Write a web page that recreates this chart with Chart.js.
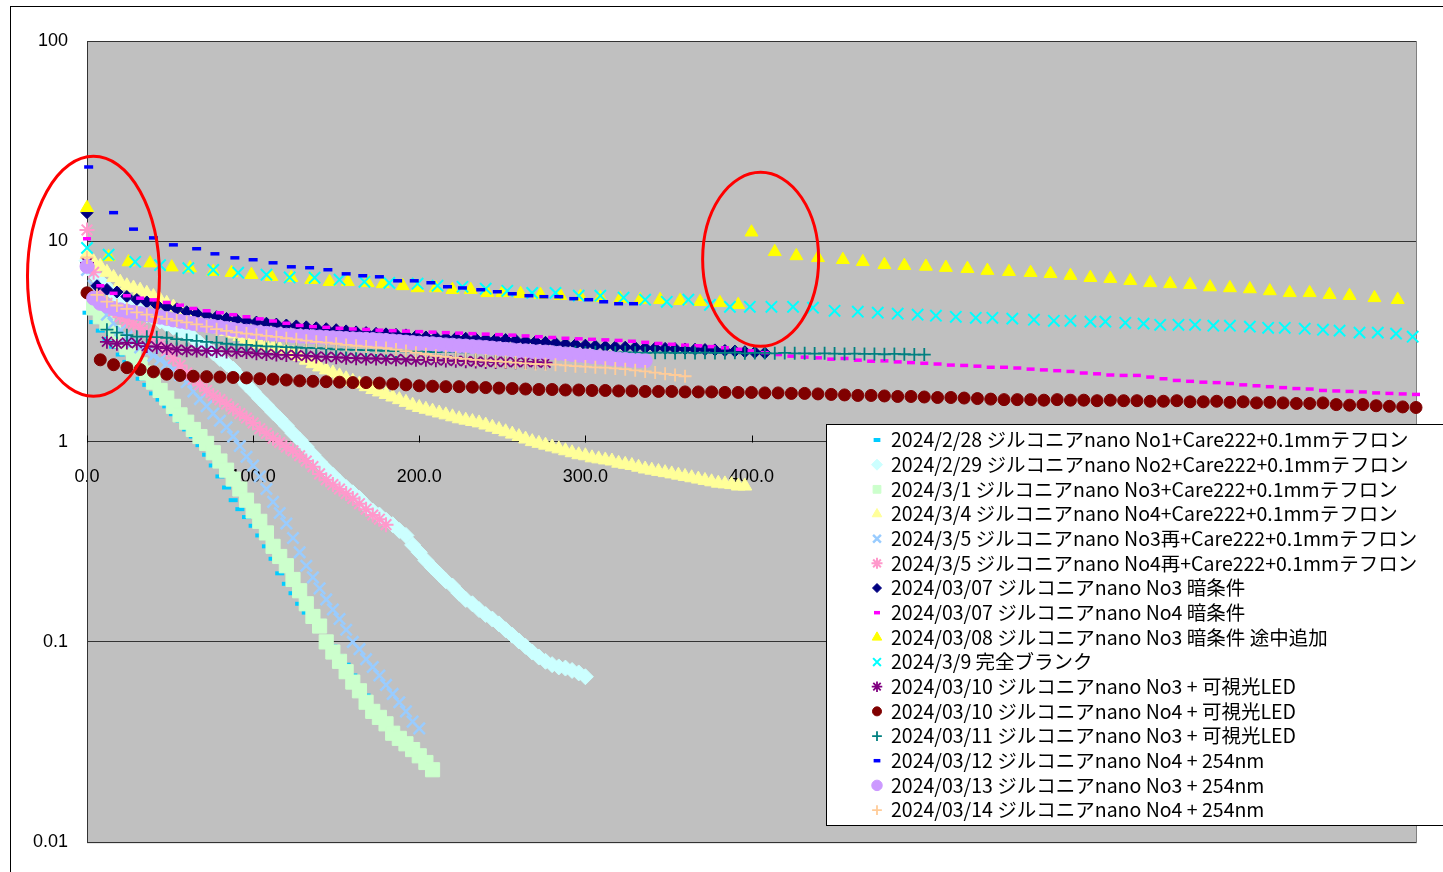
<!DOCTYPE html>
<html>
<head>
<meta charset="utf-8">
<script src="https://cdn.jsdelivr.net/npm/chart.js@4.4.1/dist/chart.umd.min.js"></script>
<style>
  html, body { margin: 0; padding: 0; background: #fff; }
  canvas { display: block; }
</style>
</head>
<body>
<canvas id="chart" width="1443" height="872"></canvas>
<script>
// ---- sampling times (min) ----
const tA = [0,4,8,12,16,20,24,28,32,36,40,44,48,52,56,60,64,68,72,76,80,84,88,92,96,100,104,108,112,116,120,124,128,132,136,140,144,148,152,156,160,164,168,172,176,180,184,188,192,196,200,204,208,212,216,220,224,228,232,236,240,244,248,252,256,260,264,268,272,276,280,284,288,292,296,300,304,308,312,316,320,324,328,332,336,340,344,348,352,356,360,364,368,372,376,380,384,388,392,396,400];
const tB = [0,6,12,18,24,30,36,42,48,54,60,66,72,78,84,90,96,102,108,114,120,126,132,138,144,150,156,162,168,174,180,186,192,198,204,210,216,222,228,234,240,246,252,258,264,270,276,282,288,294,300,306,312,318,324,330,336,342,348,354,360,366,372,378,384,390,396,402,408,414,420,426,432,438,444,450,456,462,468,474,480,486,492,498,504];
const tC = [0,8,16,24,32,40,48,56,64,72,80,88,96,104,112,120,128,136,144,152,160,168,176,184,192,200,208,216,224,232,240,248,256,264,272,280,288,296,304,312,320,328,336,344,352,360,368,376,384,392,400,408,416,424,432,440,448,456,464,472,480,488,496,504,512,520,528,536,544,552,560,568,576,584,592,600,608,616,624,632,640,648,656,664,672,680,688,696,704,712,720,728,736,744,752,760,768,776,784,792,800];
const tYellow = [0,13,25,38,51,62,76,87,99,111,123,135,146,157,169,178,190,199,210,220,231,241,250,261,273,285,297,309,321,333,345,357,369,381,392,400,414,427,440,455,467,480,492,505,517,530,542,555,568,580,592,604,616,628,640,652,664,676,688,700,712,724,736,748,760,775,789];
const tBlank = [0,13,29,44,61,76,91,108,122,137,152,167,182,199,211,226,240,253,268,282,296,309,323,336,349,362,375,387,399,412,425,437,450,464,476,488,500,511,523,535,545,557,570,582,592,604,613,625,636,646,657,667,678,688,700,711,721,733,744,754,766,777,788,798];
const tUv = [1,16,28,40,52,66,77,89,100,112,123,134,145,156,166,176,187,197,207,217,226,237,247,256,266,275,284,293,302,311,320,329];

// ---- series values ----
const s0228 = [4.4,3.95,3.58,3.25,2.98,2.72,2.5,2.28,2.06,1.92,1.74,1.62,1.5,1.37,1.27,1.15,1.06,0.96,0.86,0.76,0.67,0.59,0.51,0.46,0.42,0.38,0.34,0.3,0.26,0.22,0.195,0.175,0.155,0.14,0.127,0.117,0.105,0.095,0.085,0.077,0.068,0.06,0.054,0.045];
const s0229 = [8.0,6.9,6.3,5.9,5.5,5.2,4.95,4.7,4.5,4.3,4.15,4.0,3.85,3.72,3.6,3.45,3.3,3.1,2.95,2.78,2.6,2.45,2.3,2.1,1.92,1.78,1.64,1.52,1.4,1.3,1.2,1.1,1.02,0.94,0.86,0.79,0.73,0.68,0.63,0.59,0.555,0.52,0.48,0.45,0.43,0.405,0.385,0.36,0.34,0.305,0.28,0.255,0.235,0.218,0.202,0.19,0.175,0.163,0.155,0.145,0.137,0.13,0.123,0.115,0.108,0.101,0.095,0.089,0.084,0.08,0.077,0.075,0.074,0.072,0.07,0.067];
const s0301 = [null,4.65,4.2,3.9,3.5,3.2,2.94,2.7,2.42,2.2,1.98,1.8,1.65,1.5,1.36,1.25,1.15,1.06,0.98,0.88,0.8,0.72,0.65,0.58,0.51,0.45,0.4,0.35,0.3,0.267,0.24,0.205,0.18,0.155,0.134,0.12,0.1,0.089,0.08,0.071,0.063,0.057,0.05,0.045,0.042,0.039,0.035,0.033,0.031,0.029,0.027,0.025,0.023];
const s0304 = [8.6,7.9,7.5,7.0,6.6,6.25,6.0,5.85,5.7,5.5,5.3,5.1,4.9,4.7,4.5,4.35,4.2,4.05,3.9,3.78,3.65,3.55,3.45,3.35,3.25,3.15,3.07,3.0,2.95,2.9,2.84,2.75,2.66,2.55,2.45,2.36,2.28,2.2,2.13,2.06,2.0,1.94,1.88,1.82,1.77,1.72,1.67,1.62,1.57,1.52,1.48,1.45,1.42,1.39,1.36,1.33,1.3,1.28,1.26,1.24,1.21,1.18,1.15,1.12,1.09,1.06,1.03,1.0,0.98,0.96,0.94,0.92,0.9,0.88,0.86,0.85,0.83,0.82,0.81,0.8,0.78,0.77,0.76,0.745,0.73,0.72,0.71,0.7,0.69,0.68,0.67,0.66,0.65,0.64,0.63,0.62,0.615,0.61,0.6,0.6];
const s0305a = [7.2,6.0,5.0,4.3,3.9,3.6,3.35,3.15,2.95,2.8,2.68,2.56,2.45,2.3,2.15,1.98,1.78,1.63,1.5,1.38,1.27,1.18,1.06,0.95,0.84,0.76,0.67,0.58,0.5,0.44,0.39,0.33,0.28,0.24,0.21,0.185,0.163,0.145,0.13,0.115,0.1,0.092,0.082,0.075,0.068,0.061,0.055,0.05,0.045,0.04,0.037];
const s0305b = [11.4,7.0,5.5,4.9,4.5,4.2,4.0,3.85,3.7,3.5,3.3,3.1,2.85,2.6,2.4,2.2,2.05,1.92,1.8,1.7,1.62,1.54,1.46,1.38,1.31,1.24,1.16,1.1,1.04,0.99,0.94,0.9,0.85,0.8,0.75,0.69,0.645,0.61,0.58,0.55,0.52,0.49,0.46,0.43,0.41,0.385];
const s0307a = [13.9,6.0,5.75,5.58,5.3,5.12,4.98,4.82,4.7,4.6,4.45,4.36,4.28,4.2,4.12,4.06,4.0,3.95,3.9,3.86,3.82,3.78,3.74,3.7,3.66,3.62,3.57,3.53,3.5,3.47,3.45,3.43,3.41,3.36,3.33,3.31,3.3,3.29,3.28,3.26,3.25,3.24,3.23,3.21,3.18,3.16,3.13,3.1,3.07,3.05,3.03,3.0,2.98,2.97,2.96,2.95,2.94,2.93,2.92,2.91,2.9,2.89,2.88,2.87,2.85,2.83,2.81,2.79,2.77];
const s0307b = [10.3,6.0,5.5,5.35,5.2,5.1,4.95,4.8,4.62,4.5,4.4,4.3,4.2,4.1,4.0,3.9,3.8,3.75,3.72,3.68,3.65,3.63,3.6,3.58,3.56,3.54,3.52,3.5,3.48,3.46,3.44,3.42,3.4,3.37,3.34,3.31,3.28,3.26,3.24,3.22,3.2,3.17,3.13,3.09,3.06,3.03,3.01,2.98,2.94,2.89,2.84,2.78,2.72,2.67,2.64,2.62,2.58,2.6,2.55,2.52,2.53,2.5,2.48,2.46,2.44,2.41,2.4,2.38,2.35,2.35,2.33,2.3,2.28,2.26,2.24,2.2,2.18,2.15,2.14,2.14,2.1,2.06,2.02,2.0,1.98,1.97,1.95,1.92,1.9,1.88,1.86,1.84,1.83,1.8,1.79,1.78,1.77,1.75,1.74,1.73,1.72];
const s0308 = [14.7,8.36,7.88,7.78,7.43,7.35,7.05,6.97,6.81,6.66,6.58,6.43,6.28,6.28,6.2,6.13,5.99,5.85,5.85,5.73,5.73,5.53,5.53,5.47,5.41,5.35,5.29,5.23,5.17,5.11,5.11,5.05,4.99,4.93,4.82,11.1,8.86,8.45,8.27,8.09,7.9,7.63,7.56,7.49,7.39,7.3,7.14,7.05,6.97,6.89,6.74,6.58,6.51,6.36,6.2,6.13,6.07,5.91,5.85,5.78,5.65,5.53,5.53,5.41,5.35,5.22,5.11];
const s0309 = [9.27,8.57,7.9,7.6,7.35,7.2,6.97,6.81,6.6,6.58,6.43,6.28,6.2,6.14,6.0,5.93,5.8,5.66,5.53,5.53,5.35,5.35,5.23,5.11,4.99,5.11,4.82,4.71,4.71,4.71,4.71,4.66,4.5,4.45,4.4,4.35,4.3,4.25,4.2,4.15,4.15,4.11,4.06,4.01,4.01,3.97,3.97,3.92,3.88,3.83,3.83,3.83,3.79,3.79,3.75,3.7,3.7,3.66,3.62,3.58,3.5,3.5,3.46,3.34];
const s0310a = [7.8,null,3.15,3.08,3.12,3.1,3.0,2.97,2.93,2.88,2.86,2.85,2.84,2.83,2.82,2.81,2.8,2.76,2.74,2.72,2.71,2.7,2.68,2.66,2.65,2.64,2.62,2.61,2.6,2.6,2.59,2.58,2.57,2.56,2.56,2.55,2.54,2.53,2.52,2.51,2.5,2.5,2.5,2.49,2.5,2.49,2.48];
const s0310b = [5.53,2.56,2.42,2.34,2.29,2.23,2.17,2.14,2.12,2.11,2.1,2.09,2.08,2.06,2.05,2.03,2.01,2.0,1.99,1.98,1.97,1.97,1.96,1.94,1.92,1.9,1.89,1.88,1.88,1.87,1.86,1.85,1.84,1.83,1.82,1.82,1.81,1.81,1.8,1.8,1.79,1.79,1.78,1.78,1.78,1.77,1.77,1.77,1.76,1.76,1.76,1.75,1.75,1.74,1.74,1.73,1.72,1.71,1.7,1.7,1.69,1.68,1.68,1.67,1.66,1.66,1.65,1.64,1.63,1.62,1.62,1.62,1.61,1.62,1.61,1.61,1.6,1.61,1.6,1.6,1.59,1.59,1.6,1.58,1.58,1.59,1.57,1.58,1.56,1.57,1.56,1.55,1.55,1.56,1.53,1.52,1.53,1.51,1.5,1.49,1.48];
const s0311 = [null,null,3.62,3.5,3.4,3.34,3.34,3.32,3.3,3.25,3.22,3.18,3.15,3.12,3.08,3.05,3.04,3.01,2.99,2.98,2.96,2.95,2.94,2.93,2.91,2.89,2.88,2.87,2.86,2.85,2.84,2.83,2.82,2.81,2.81,2.8,2.81,2.8,2.79,2.8,2.79,2.8,2.79,2.79,2.8,2.78,2.79,2.79,2.78,2.79,2.78,2.79,2.78,2.78,2.79,2.78,2.77,2.78,2.78,2.77,2.78,2.77,2.78,2.77,2.77,2.78,2.76,2.77,2.77,2.76,2.77,2.76,2.76,2.75,2.76,2.75,2.74,2.75,2.74,2.74,2.73,2.74,2.73,2.72,2.72];
const s0312 = [23.5,13.9,11.5,10.4,9.6,9.18,8.66,8.27,8.09,7.81,7.46,7.38,7.21,6.88,6.73,6.65,6.35,6.35,6.21,5.93,5.85,5.73,5.6,5.47,5.35,5.29,5.29,5.17,5.11,4.99,4.88,4.88];
const s0313 = [7.5,5.2,4.9,4.75,4.62,4.55,4.48,4.42,4.36,4.3,4.24,4.18,4.12,4.05,3.99,3.94,3.89,3.84,3.8,3.76,3.72,3.67,3.63,3.59,3.56,3.53,3.5,3.47,3.44,3.42,3.4,3.38,3.36,3.35,3.34,3.33,3.31,3.3,3.29,3.27,3.26,3.25,3.24,3.23,3.22,3.2,3.18,3.16,3.14,3.12,3.1,3.09,3.08,3.06,3.04,3.03,3.01,3.0,2.98,2.97,2.95,2.93,2.91,2.89,2.87,2.85,2.84,2.82,2.81,2.8,2.78,2.76,2.74,2.72,2.7,2.68,2.66,2.64,2.62,2.6,2.58,2.57,2.55,2.54,2.53];
const s0314 = [8.3,5.4,5.0,4.78,4.6,4.42,4.3,4.2,4.1,4.02,3.94,3.85,3.75,3.64,3.57,3.51,3.46,3.42,3.37,3.33,3.28,3.24,3.19,3.15,3.12,3.08,3.04,3.01,2.98,2.95,2.93,2.88,2.83,2.78,2.73,2.68,2.65,2.62,2.59,2.56,2.54,2.52,2.5,2.48,2.46,2.44,2.43,2.42,2.4,2.38,2.37,2.35,2.34,2.32,2.3,2.27,2.24,2.21,2.18,2.15,2.12];

// ---- axis ----
const xTicksStep = 100;
const yTickValues = [0.01, 0.1, 1, 10, 100];

// ---- series labels / look ----
const labels = [
  '2024/2/28 ジルコニアnano No1+Care222+0.1mmテフロン',
  '2024/2/29 ジルコニアnano No2+Care222+0.1mmテフロン',
  '2024/3/1 ジルコニアnano No3+Care222+0.1mmテフロン',
  '2024/3/4 ジルコニアnano No4+Care222+0.1mmテフロン',
  '2024/3/5 ジルコニアnano No3再+Care222+0.1mmテフロン',
  '2024/3/5 ジルコニアnano No4再+Care222+0.1mmテフロン',
  '2024/03/07 ジルコニアnano No3 暗条件',
  '2024/03/07 ジルコニアnano No4 暗条件',
  '2024/03/08 ジルコニアnano No3 暗条件 途中追加',
  '2024/3/9 完全ブランク',
  '2024/03/10 ジルコニアnano No3 + 可視光LED',
  '2024/03/10 ジルコニアnano No4 + 可視光LED',
  '2024/03/11 ジルコニアnano No3 + 可視光LED',
  '2024/03/12 ジルコニアnano No4 + 254nm',
  '2024/03/13 ジルコニアnano No3 + 254nm',
  '2024/03/14 ジルコニアnano No4 + 254nm'
];
const seriesX = [tA, tA, tA, tA, tA, tA, tB, tC, tYellow, tBlank, tB, tC, tB, tUv, tA, tB];
const seriesY = [s0228, s0229, s0301, s0304, s0305a, s0305b, s0307a, s0307b, s0308, s0309, s0310a, s0310b, s0311, s0312, s0313, s0314];
const colors = ['#00ccff','#ccffff','#ccffcc','#ffff99','#99ccff','#ff99cc','#000080','#ff00ff','#ffff00','#00ffff','#800080','#800000','#008080','#0000ff','#cc99ff','#ffcc99'];
const markers = [
  ['line', 4.5, 4], ['rectRot', 8, 1], ['rect', 10, 1], ['triangle', 8, 1],
  ['crossRot', 8, 2.5], ['star', 7.5, 2], ['rectRot', 6, 1], ['line', 4, 3.5],
  ['triangle', 7.5, 1], ['crossRot', 8, 2], ['star', 7, 1.8], ['circle', 6, 1],
  ['cross', 6.5, 1.8], ['line', 4.5, 3.5], ['circle', 7, 1], ['cross', 6.5, 1.8]
];

// red circles drawn on the sheet (data coords, radii in px)
const notes = [
  { x: 3.9, y: 6.69, rx: 66, ry: 120 },
  { x: 405.5, y: 8.13, rx: 58, ry: 87 }
];

function toPoints(xs, ys) {
  return ys.map((v, i) => ({ x: xs[i], y: v })).filter(p => p.y !== null);
}

const datasets = labels.map((label, i) => ({
  label: label,
  data: toPoints(seriesX[i], seriesY[i]),
  pointStyle: markers[i][0],
  pointRadius: markers[i][1],
  pointBorderWidth: markers[i][2],
  backgroundColor: colors[i],
  borderColor: colors[i],
  showLine: false,
  clip: false,
  order: labels.length - i // later series on top, like Excel
}));

const sheetLook = {
  id: 'sheetLook',
  beforeDraw(chart) {
    const { ctx, chartArea: a } = chart;
    ctx.save();
    ctx.fillStyle = '#ffffff';
    ctx.fillRect(0, 0, chart.width, chart.height);
    ctx.fillStyle = '#c0c0c0';
    ctx.fillRect(a.left, a.top, a.right - a.left, a.bottom - a.top);
    ctx.strokeStyle = '#808080';
    ctx.lineWidth = 1;
    ctx.strokeRect(a.left + 0.5, a.top + 0.5, a.right - a.left, a.bottom - a.top);
    ctx.restore();
  },
  beforeDatasetsDraw(chart) {
    // tick marks point up from the x axis (crosses at 1)
    const { ctx, scales: { x, y } } = chart;
    const y0 = Math.round(y.getPixelForValue(1)) + 0.5;
    ctx.save();
    ctx.strokeStyle = '#000';
    ctx.lineWidth = 1;
    x.ticks.forEach(t => {
      const px = Math.round(x.getPixelForValue(t.value)) + 0.5;
      ctx.beginPath();
      ctx.moveTo(px, y0);
      ctx.lineTo(px, y0 - 7);
      ctx.stroke();
    });
    ctx.restore();
  },
  afterDraw(chart) {
    const { ctx, scales: { x, y } } = chart;
    ctx.save();

    // red ellipses
    ctx.strokeStyle = '#ff0000';
    ctx.lineWidth = 3;
    notes.forEach(n => {
      ctx.beginPath();
      ctx.ellipse(x.getPixelForValue(n.x), y.getPixelForValue(n.y), n.rx, n.ry, 0, 0, Math.PI * 2);
      ctx.stroke();
    });

    // legend box
    const lx = 826, ly = 424, lh = 401;
    ctx.fillStyle = '#ffffff';
    ctx.fillRect(lx, ly, chart.width - lx + 10, lh);
    ctx.strokeStyle = '#000';
    ctx.lineWidth = 1;
    ctx.strokeRect(lx + 0.5, ly + 0.5, chart.width - lx + 10, lh);

    ctx.font = '19.5px "Noto Sans CJK JP"';
    ctx.textBaseline = 'middle';
    ctx.textAlign = 'left';
    chart.data.datasets.forEach((ds, i) => {
      const cy = 440 + i * 24.67;
      ctx.fillStyle = ds.backgroundColor;
      ctx.strokeStyle = ds.borderColor;
      ctx.lineWidth = ds.pointBorderWidth;
      Chart.helpers.drawPoint(ctx, {
        pointStyle: ds.pointStyle,
        radius: Math.min(ds.pointRadius * 0.75, 5.5),
        borderWidth: ds.pointBorderWidth,
        rotation: 0
      }, 877, cy);
      ctx.fillStyle = '#000';
      ctx.fillText(ds.label, 891, cy);
    });

    // outer frame of the sheet chart
    ctx.strokeStyle = '#000';
    ctx.lineWidth = 1;
    ctx.strokeRect(10.5, 6.5, 1500, 1000);
    ctx.restore();
  }
};

new Chart(document.getElementById('chart'), {
  type: 'scatter',
  data: { datasets: datasets },
  options: {
    responsive: false,
    devicePixelRatio: 1,
    animation: false,
    events: [],
    layout: { padding: { top: 41, right: 27, bottom: 29, left: 0 } },
    plugins: { legend: { display: false }, tooltip: { enabled: false } },
    scales: {
      x: {
        type: 'linear',
        min: 0,
        max: 800,
        position: { y: 1 },
        afterFit: s => { s.paddingLeft = 0; s.paddingRight = 0; },
        grid: { display: false },
        border: { display: false },
        ticks: {
          stepSize: xTicksStep,
          autoSkip: false,
          maxRotation: 0,
          padding: 17,
          color: '#000',
          font: { family: 'Liberation Sans', size: 18 },
          callback: v => Number(v).toFixed(1)
        }
      },
      y: {
        type: 'logarithmic',
        min: 0.01,
        max: 100,
        afterBuildTicks: s => { s.ticks = yTickValues.map(v => ({ value: v })); },
        afterFit: s => { s.width = 87; },
        grid: { color: '#333', lineWidth: 1, drawTicks: false },
        border: { display: true, color: '#333', width: 1 },
        ticks: {
          padding: 19,
          color: '#000',
          font: { family: 'Liberation Sans', size: 18 },
          callback: v => String(v)
        }
      }
    }
  },
  plugins: [sheetLook]
});
</script>
</body>
</html>
